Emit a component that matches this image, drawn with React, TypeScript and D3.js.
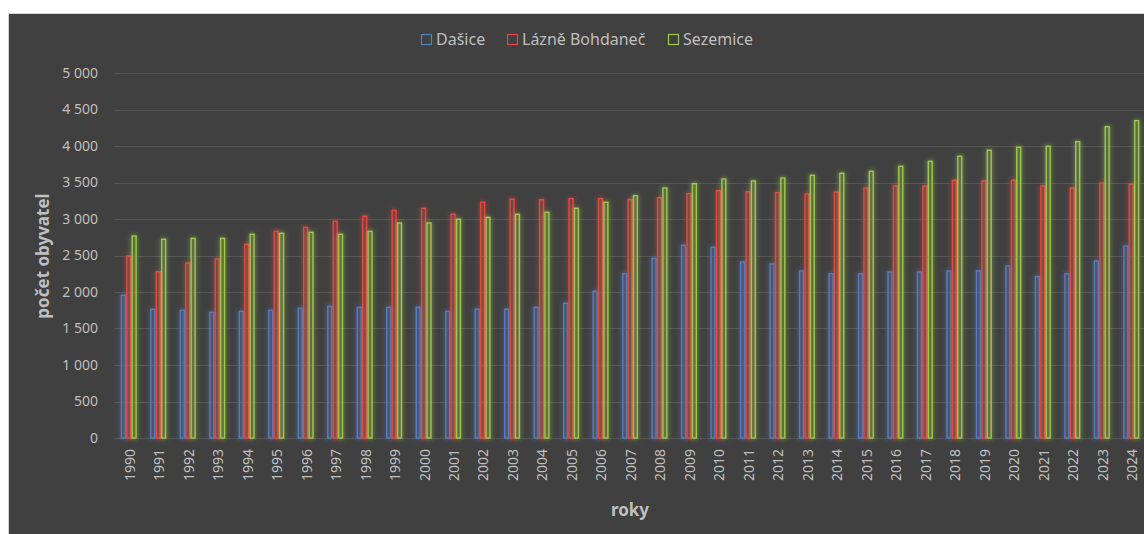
import { useEffect, useRef } from "react";
import * as d3 from "d3";

// Počet obyvatel podle let
const years = [
  1990, 1991, 1992, 1993, 1994, 1995, 1996, 1997, 1998, 1999, 2000, 2001,
  2002, 2003, 2004, 2005, 2006, 2007, 2008, 2009, 2010, 2011, 2012, 2013,
  2014, 2015, 2016, 2017, 2018, 2019, 2020, 2021, 2022, 2023, 2024,
];

const dasice = [
  1955, 1763, 1749, 1722, 1735, 1749, 1777, 1804, 1790, 1790, 1790, 1735,
  1763, 1763, 1790, 1845, 2010, 2251, 2461, 2639, 2612, 2411, 2384, 2288,
  2251, 2251, 2274, 2274, 2288, 2288, 2356, 2210, 2251, 2425, 2630,
];

const lazneBohdanec = [
  2493, 2278, 2397, 2452, 2653, 2831, 2886, 2968, 3037, 3119, 3146, 3064,
  3229, 3270, 3265, 3279, 3279, 3265, 3292, 3347, 3388, 3374, 3360, 3342,
  3370, 3425, 3452, 3452, 3530, 3521, 3530, 3452, 3425, 3493, 3479,
];

const sezemice = [
  2767, 2722, 2735, 2735, 2790, 2804, 2817, 2790, 2831, 2945, 2945, 2996,
  3023, 3064, 3092, 3146, 3229, 3319, 3425, 3484, 3548, 3521, 3562, 3598,
  3626, 3653, 3722, 3790, 3859, 3941, 3982, 3996, 4060, 4265, 4347,
];

const seriesNames = ["Dašice", "Lázně Bohdaneč", "Sezemice"];
const seriesColors = ["#4f7fc4", "#e2483f", "#9cc94f"];
const yTicks = [0, 500, 1000, 1500, 2000, 2500, 3000, 3500, 4000, 4500, 5000];

const W = 1144;
const H = 534;
const FONT = "'Noto Sans', 'Open Sans', sans-serif";

export default function App() {
  const svgRef = useRef<SVGSVGElement>(null);

  useEffect(() => {
    if (!svgRef.current) return;
    document.body.style.margin = "0";

    const svg = d3.select(svgRef.current);
    svg.selectAll("*").remove();

    const series = [dasice, lazneBohdanec, sezemice];

    // Pozadí
    svg
      .append("rect")
      .attr("x", 8.5)
      .attr("y", 13.5)
      .attr("width", W)
      .attr("height", H)
      .attr("fill", "#404040")
      .attr("stroke", "#d4d4d4")
      .attr("stroke-width", 1);

    // Záře sloupců
    const defs = svg.append("defs");
    const filter = defs
      .append("filter")
      .attr("id", "glow")
      .attr("x", "-200%")
      .attr("y", "-20%")
      .attr("width", "500%")
      .attr("height", "140%");
    filter
      .append("feGaussianBlur")
      .attr("in", "SourceGraphic")
      .attr("stdDeviation", 2.6)
      .attr("result", "blur");
    const merge = filter.append("feMerge");
    merge.append("feMergeNode").attr("in", "blur");
    merge.append("feMergeNode").attr("in", "SourceGraphic");

    // Škály
    const x = d3
      .scaleBand<number>()
      .domain(years)
      .range([114, 1146])
      .paddingInner(0.45)
      .paddingOuter(0.225);

    const xs = d3
      .scaleBand<number>()
      .domain([0, 1, 2])
      .range([0, x.bandwidth()])
      .padding(0);

    const y = d3.scaleLinear().domain([0, 5000]).range([438, 73]);

    // Mřížka
    svg
      .append("g")
      .selectAll("line")
      .data(yTicks)
      .enter()
      .append("line")
      .attr("x1", 114)
      .attr("x2", W)
      .attr("y1", (d) => Math.round(y(d)) + 0.5)
      .attr("y2", (d) => Math.round(y(d)) + 0.5)
      .attr("stroke", "#555555")
      .attr("stroke-width", 1);

    // Osa Y
    svg
      .append("g")
      .selectAll("text")
      .data(yTicks)
      .enter()
      .append("text")
      .attr("x", 98)
      .attr("y", (d) => y(d))
      .attr("dy", "0.35em")
      .attr("text-anchor", "end")
      .attr("fill", "#bfbfbf")
      .style("font-family", FONT)
      .style("font-size", "14px")
      .text((d) => d3.format(",")(d).replace(/,/g, " "));

    // Sloupce
    series.forEach((values, si) => {
      svg
        .append("g")
        .attr("filter", "url(#glow)")
        .selectAll("rect")
        .data(values)
        .enter()
        .append("rect")
        .attr("x", (_, i) => (x(years[i]) || 0) + (xs(si) || 0) + 0.75)
        .attr("y", (d) => y(d))
        .attr("width", xs.bandwidth() - 1.5)
        .attr("height", (d) => 438 - y(d))
        .attr("fill", "none")
        .attr("stroke", seriesColors[si])
        .attr("stroke-width", 1.4);
    });

    // Osa X
    svg
      .append("g")
      .selectAll("text")
      .data(years)
      .enter()
      .append("text")
      .attr(
        "transform",
        (d) => `translate(${(x(d) || 0) + x.bandwidth() / 2 + 1},449) rotate(-90)`
      )
      .attr("dy", "0.35em")
      .attr("text-anchor", "end")
      .attr("fill", "#bfbfbf")
      .style("font-family", FONT)
      .style("font-size", "14px")
      .text((d) => d);

    // Názvy os
    svg
      .append("text")
      .attr("transform", "translate(49,256) rotate(-90)")
      .attr("text-anchor", "middle")
      .attr("fill", "#bfbfbf")
      .style("font-family", FONT)
      .style("font-size", "17px")
      .style("font-weight", "bold")
      .text("počet obyvatel");

    svg
      .append("text")
      .attr("x", 630)
      .attr("y", 516)
      .attr("text-anchor", "middle")
      .attr("fill", "#bfbfbf")
      .style("font-family", FONT)
      .style("font-size", "17px")
      .style("font-weight", "bold")
      .text("roky");

    // Legenda
    const legendX = [421, 507, 668];
    const legend = svg
      .append("g")
      .selectAll("g")
      .data(seriesNames)
      .enter()
      .append("g")
      .attr("transform", (_, i) => `translate(${legendX[i]},34)`);

    legend
      .append("rect")
      .attr("x", 0.5)
      .attr("y", 0.5)
      .attr("width", 10)
      .attr("height", 10)
      .attr("fill", "none")
      .attr("stroke", (_, i) => seriesColors[i])
      .attr("stroke-width", 1.2);

    legend
      .append("text")
      .attr("x", 15)
      .attr("y", 5.5)
      .attr("dy", "0.35em")
      .attr("fill", "#bfbfbf")
      .style("font-family", FONT)
      .style("font-size", "16px")
      .text((d) => d);
  }, []);

  return (
    <div style={{ position: "absolute", left: 0, top: 0 }}>
      <svg ref={svgRef} width={W} height={H} style={{ display: "block" }} />
    </div>
  );
}
